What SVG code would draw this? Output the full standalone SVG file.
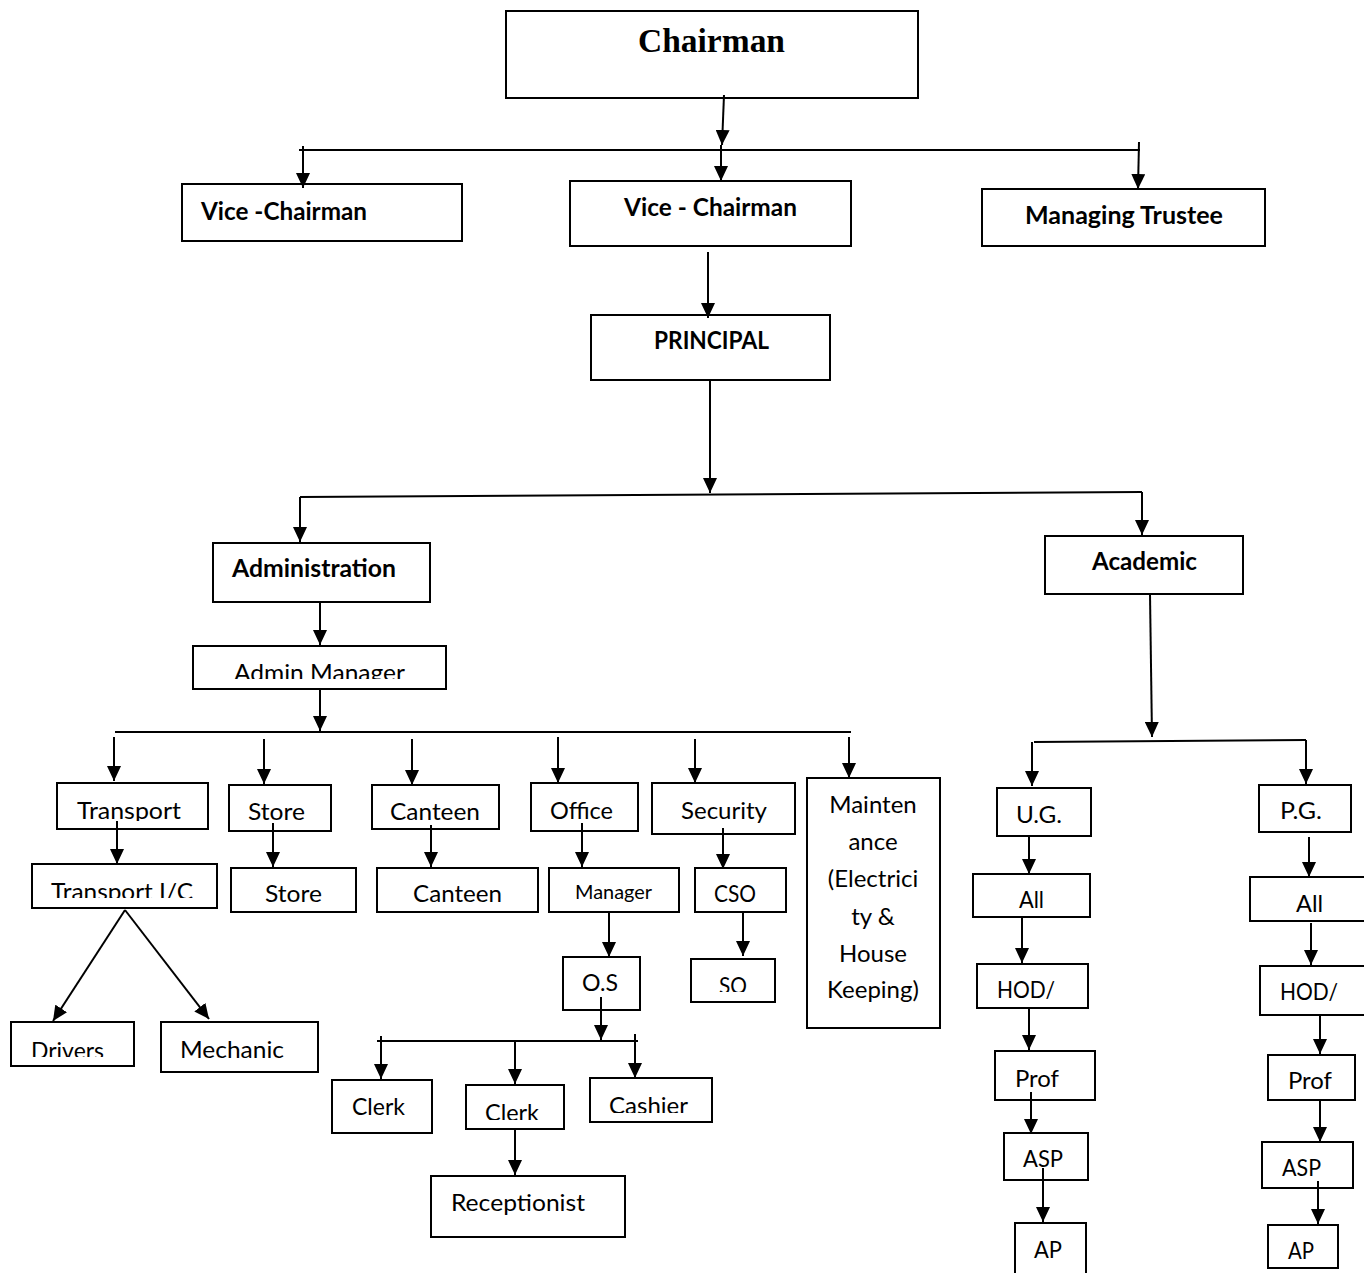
<svg xmlns="http://www.w3.org/2000/svg" width="1364" height="1273" viewBox="0 0 1364 1273">
<style>
.bx{fill:#fff;stroke:#000;stroke-width:2}
.b{font-family:Lato,"Liberation Sans",sans-serif;font-weight:700;font-size:24px;fill:#000}
.r{font-family:Lato,"Liberation Sans",sans-serif;font-weight:400;font-size:24px;fill:#000}
.m{text-anchor:middle}
.t{font-family:"Liberation Serif","Times New Roman",serif;font-weight:700;font-size:34px;fill:#000}
.c line{stroke:#000;stroke-width:2}
.c .a{marker-end:url(#ah)}
</style>
<defs>
<marker id="ah" markerUnits="userSpaceOnUse" viewBox="0 0 15 14" markerWidth="15" markerHeight="14" refX="15" refY="7" orient="auto">
<path d="M0,0 L15,7 L0,14 Z" fill="#000"/>
</marker>
<clipPath id="cAM"><rect x="190" y="640" width="260" height="39"/></clipPath>
<clipPath id="cTr"><rect x="55" y="780" width="155" height="41"/></clipPath>
<clipPath id="cTi"><rect x="30" y="860" width="190" height="38"/></clipPath>
<clipPath id="cDr"><rect x="10" y="1020" width="126" height="37"/></clipPath>
<clipPath id="cCl"><rect x="465" y="1084" width="100" height="36"/></clipPath>
<clipPath id="cCa"><rect x="589" y="1076" width="125" height="37"/></clipPath>
<clipPath id="cSO"><rect x="690" y="957" width="87" height="35"/></clipPath>
</defs>

<g id="chairman"><rect class="bx" x="506" y="11" width="412" height="87"/><text class="t" x="638" y="52" textLength="147" lengthAdjust="spacingAndGlyphs">Chairman</text></g>
<g id="vice-chairman-1"><rect class="bx" x="182" y="184" width="280" height="57"/><text class="b" x="201" y="220" textLength="166" lengthAdjust="spacingAndGlyphs">Vice -Chairman</text></g>
<g id="vice-chairman-2"><rect class="bx" x="570" y="181" width="281" height="65"/><text class="b" x="624" y="216" textLength="173" lengthAdjust="spacingAndGlyphs">Vice - Chairman</text></g>
<g id="managing-trustee"><rect class="bx" x="982" y="189" width="283" height="57"/><text class="b" x="1025" y="224" textLength="198" lengthAdjust="spacingAndGlyphs">Managing Trustee</text></g>
<g id="principal"><rect class="bx" x="591" y="315" width="239" height="65"/><text class="b" x="654" y="349" textLength="115" lengthAdjust="spacingAndGlyphs">PRINCIPAL</text></g>
<g id="administration"><rect class="bx" x="213" y="543" width="217" height="59"/><text class="b" x="232" y="577" textLength="164" lengthAdjust="spacingAndGlyphs">Administration</text></g>
<g id="academic"><rect class="bx" x="1045" y="536" width="198" height="58"/><text class="b" x="1092" y="570" textLength="105" lengthAdjust="spacingAndGlyphs">Academic</text></g>
<g id="admin-manager"><rect class="bx" x="193" y="646" width="253" height="43"/><text class="r" x="234" y="681" textLength="171" lengthAdjust="spacingAndGlyphs" clip-path="url(#cAM)">Admin Manager</text></g>

<g id="transport"><rect class="bx" x="57" y="783" width="151" height="46"/><text class="r" x="77" y="819" textLength="104" lengthAdjust="spacingAndGlyphs" clip-path="url(#cTr)">Transport</text></g>
<g id="store-1"><rect class="bx" x="229" y="785" width="102" height="46"/><text class="r" x="248" y="820" textLength="57" lengthAdjust="spacingAndGlyphs">Store</text></g>
<g id="canteen-1"><rect class="bx" x="372" y="785" width="127" height="44"/><text class="r" x="390" y="820" textLength="90" lengthAdjust="spacingAndGlyphs">Canteen</text></g>
<g id="office"><rect class="bx" x="531" y="783" width="107" height="48"/><text class="r" x="550" y="819" textLength="63" lengthAdjust="spacingAndGlyphs">Office</text></g>
<g id="security"><rect class="bx" x="652" y="783" width="143" height="51"/><text class="r" x="681" y="819" textLength="86" lengthAdjust="spacingAndGlyphs">Security</text></g>
<g id="maintenance"><rect class="bx" x="807" y="778" width="133" height="250"/>
<text class="r m" x="873" y="813">Mainten</text>
<text class="r m" x="873" y="850">ance</text>
<text class="r m" x="873" y="887">(Electrici</text>
<text class="r m" x="873" y="925">ty &amp;</text>
<text class="r m" x="873" y="962">House</text>
<text class="r m" x="873" y="998">Keeping)</text></g>

<g id="transport-ic"><rect class="bx" x="32" y="864" width="185" height="44"/><text class="r" x="51" y="900" textLength="142" lengthAdjust="spacingAndGlyphs" clip-path="url(#cTi)">Transport I/C</text></g>
<g id="store-2"><rect class="bx" x="231" y="868" width="125" height="44"/><text class="r" x="265" y="902" textLength="57" lengthAdjust="spacingAndGlyphs">Store</text></g>
<g id="canteen-2"><rect class="bx" x="377" y="868" width="161" height="44"/><text class="r" x="413" y="902" textLength="89" lengthAdjust="spacingAndGlyphs">Canteen</text></g>
<g id="manager"><rect class="bx" x="549" y="868" width="130" height="44"/><text class="r" x="575" y="899" style="font-size:19px" textLength="77" lengthAdjust="spacingAndGlyphs">Manager</text></g>
<g id="cso"><rect class="bx" x="695" y="868" width="91" height="44"/><text class="r" x="714" y="902" textLength="42" lengthAdjust="spacingAndGlyphs">CSO</text></g>
<g id="os"><rect class="bx" x="563" y="957" width="77" height="53"/><text class="r" x="582" y="991" textLength="36" lengthAdjust="spacingAndGlyphs">O.S</text></g>
<g id="so"><rect class="bx" x="691" y="959" width="84" height="43"/><text class="r" x="719" y="994" textLength="28" lengthAdjust="spacingAndGlyphs" clip-path="url(#cSO)">SO</text></g>
<g id="drivers"><rect class="bx" x="11" y="1022" width="123" height="44"/><text class="r" x="31" y="1059" textLength="73" lengthAdjust="spacingAndGlyphs" clip-path="url(#cDr)">Drivers</text></g>
<g id="mechanic"><rect class="bx" x="161" y="1022" width="157" height="50"/><text class="r" x="180" y="1058" textLength="104" lengthAdjust="spacingAndGlyphs">Mechanic</text></g>
<g id="clerk-1"><rect class="bx" x="332" y="1080" width="100" height="53"/><text class="r" x="352" y="1115" textLength="53" lengthAdjust="spacingAndGlyphs">Clerk</text></g>
<g id="clerk-2"><rect class="bx" x="466" y="1085" width="98" height="44"/><text class="r" x="485" y="1121" textLength="54" lengthAdjust="spacingAndGlyphs" clip-path="url(#cCl)">Clerk</text></g>
<g id="cashier"><rect class="bx" x="590" y="1078" width="122" height="44"/><text class="r" x="609" y="1114" textLength="79" lengthAdjust="spacingAndGlyphs" clip-path="url(#cCa)">Cashier</text></g>
<g id="receptionist"><rect class="bx" x="431" y="1176" width="194" height="61"/><text class="r" x="451" y="1211" textLength="134" lengthAdjust="spacingAndGlyphs">Receptionist</text></g>

<g id="ug"><rect class="bx" x="997" y="788" width="94" height="48"/><text class="r" x="1016" y="823" textLength="46" lengthAdjust="spacingAndGlyphs">U.G.</text></g>
<g id="ug-all"><rect class="bx" x="973" y="874" width="117" height="43"/><text class="r" x="1019" y="908" textLength="25" lengthAdjust="spacingAndGlyphs">All</text></g>
<g id="ug-hod"><rect class="bx" x="977" y="964" width="111" height="44"/><text class="r" x="997" y="998" textLength="58" lengthAdjust="spacingAndGlyphs">HOD/</text></g>
<g id="ug-prof"><rect class="bx" x="995" y="1051" width="100" height="49"/><text class="r" x="1015" y="1087" textLength="44" lengthAdjust="spacingAndGlyphs">Prof</text></g>
<g id="ug-asp"><rect class="bx" x="1004" y="1133" width="84" height="47"/><text class="r" x="1023" y="1167" textLength="40" lengthAdjust="spacingAndGlyphs">ASP</text></g>
<g id="ug-ap"><rect class="bx" x="1015" y="1223" width="71" height="60"/><text class="r" x="1034" y="1258" textLength="28" lengthAdjust="spacingAndGlyphs">AP</text></g>

<g id="pg"><rect class="bx" x="1259" y="785" width="92" height="47"/><text class="r" x="1280" y="819" textLength="42" lengthAdjust="spacingAndGlyphs">P.G.</text></g>
<g id="pg-all"><rect class="bx" x="1250" y="877" width="130" height="44"/><text class="r" x="1296" y="912" textLength="27" lengthAdjust="spacingAndGlyphs">All</text></g>
<g id="pg-hod"><rect class="bx" x="1260" y="966" width="120" height="49"/><text class="r" x="1280" y="1000" textLength="58" lengthAdjust="spacingAndGlyphs">HOD/</text></g>
<g id="pg-prof"><rect class="bx" x="1268" y="1055" width="87" height="45"/><text class="r" x="1288" y="1089" textLength="44" lengthAdjust="spacingAndGlyphs">Prof</text></g>
<g id="pg-asp"><rect class="bx" x="1262" y="1142" width="91" height="46"/><text class="r" x="1282" y="1176" textLength="39" lengthAdjust="spacingAndGlyphs">ASP</text></g>
<g id="pg-ap"><rect class="bx" x="1268" y="1225" width="70" height="43"/><text class="r" x="1288" y="1259" textLength="26" lengthAdjust="spacingAndGlyphs">AP</text></g>

<g class="c" id="connectors">
<line class="a" x1="724" y1="95" x2="722" y2="145"/>
<line x1="299" y1="150" x2="1140" y2="150"/>
<line class="a" x1="303" y1="146" x2="303" y2="188"/>
<line class="a" x1="721" y1="145" x2="721" y2="181"/>
<line class="a" x1="1139" y1="142" x2="1138" y2="189"/>
<line class="a" x1="708" y1="252" x2="708" y2="318"/>
<line class="a" x1="710" y1="380" x2="710" y2="493"/>
<line x1="300" y1="497" x2="1142" y2="492"/>
<line class="a" x1="300" y1="497" x2="300" y2="542"/>
<line class="a" x1="1142" y1="492" x2="1142" y2="535"/>
<line class="a" x1="320" y1="602" x2="320" y2="645"/>
<line class="a" x1="320" y1="689" x2="320" y2="731"/>
<line x1="115" y1="732" x2="851" y2="732"/>
<line class="a" x1="114" y1="737" x2="114" y2="781"/>
<line class="a" x1="264" y1="739" x2="264" y2="784"/>
<line class="a" x1="412" y1="739" x2="412" y2="785"/>
<line class="a" x1="558" y1="737" x2="558" y2="783"/>
<line class="a" x1="695" y1="739" x2="695" y2="783"/>
<line class="a" x1="849" y1="737" x2="849" y2="778"/>
<line class="a" x1="117" y1="821" x2="117" y2="864"/>
<line class="a" x1="273" y1="823" x2="273" y2="867"/>
<line class="a" x1="431" y1="825" x2="431" y2="867"/>
<line class="a" x1="582" y1="823" x2="582" y2="867"/>
<line class="a" x1="723" y1="828" x2="723" y2="869"/>
<line class="a" x1="125" y1="910" x2="53" y2="1021"/>
<line class="a" x1="125" y1="910" x2="209" y2="1019"/>
<line class="a" x1="609" y1="912" x2="609" y2="957"/>
<line class="a" x1="743" y1="912" x2="743" y2="956"/>
<line class="a" x1="601" y1="997" x2="601" y2="1040"/>
<line x1="377" y1="1041" x2="638" y2="1041"/>
<line class="a" x1="381" y1="1036" x2="381" y2="1079"/>
<line class="a" x1="515" y1="1041" x2="515" y2="1084"/>
<line class="a" x1="635" y1="1034" x2="635" y2="1078"/>
<line class="a" x1="515" y1="1129" x2="515" y2="1175"/>
<line class="a" x1="1150" y1="594" x2="1152" y2="737"/>
<line x1="1034" y1="742" x2="1306" y2="740"/>
<line class="a" x1="1032" y1="742" x2="1032" y2="786"/>
<line class="a" x1="1306" y1="740" x2="1306" y2="784"/>
<line class="a" x1="1029" y1="836" x2="1029" y2="874"/>
<line class="a" x1="1022" y1="917" x2="1022" y2="963"/>
<line class="a" x1="1029" y1="1008" x2="1029" y2="1050"/>
<line class="a" x1="1031" y1="1092" x2="1031" y2="1134"/>
<line class="a" x1="1043" y1="1168" x2="1043" y2="1222"/>
<line class="a" x1="1309" y1="837" x2="1309" y2="877"/>
<line class="a" x1="1311" y1="923" x2="1311" y2="965"/>
<line class="a" x1="1320" y1="1015" x2="1320" y2="1054"/>
<line class="a" x1="1320" y1="1100" x2="1320" y2="1142"/>
<line class="a" x1="1318" y1="1181" x2="1318" y2="1224"/>
</g>
</svg>
